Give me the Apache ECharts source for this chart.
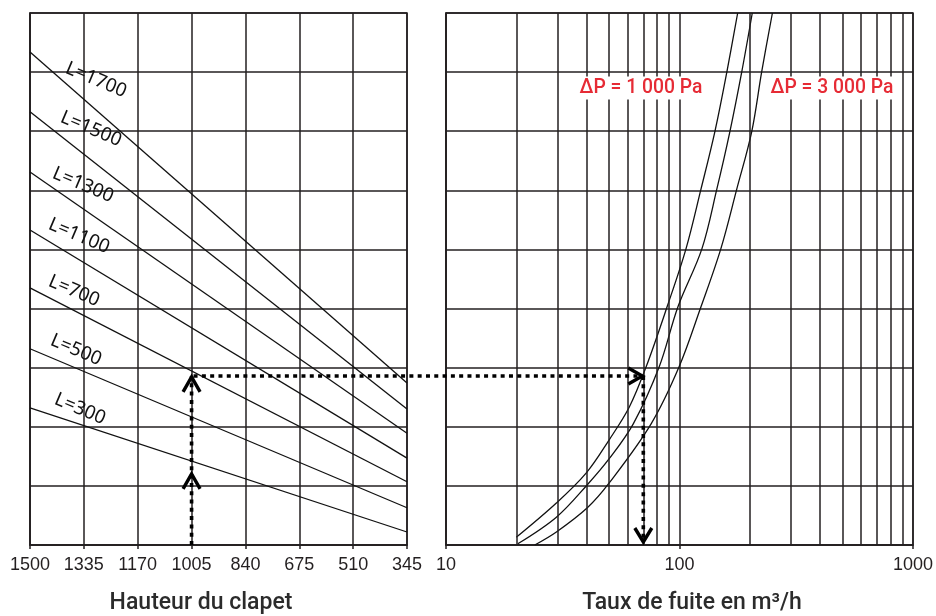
<!DOCTYPE html>
<html>
<head>
<meta charset="utf-8">
<script src="https://cdn.jsdelivr.net/npm/echarts@6/dist/echarts.min.js"></script>
<style>
  html, body { margin: 0; padding: 0; background: #fff; }
  #chart { width: 936px; height: 616px; }
</style>
</head>
<body>
<div id="chart"></div>
<script>
// ---------- data ----------
const hauteurMin = 345, hauteurMax = 1500, hauteurStep = 165;
const levelMin = 0, levelMax = 9, levelStep = 1;
const fuiteMin = 10, fuiteMax = 1000;
const fuiteMinor = [20, 30, 40, 50, 60, 70, 80, 90, 200, 300, 400, 500, 600, 700, 800, 900];

const lNames = ['L=1700', 'L=1500', 'L=1300', 'L=1100', 'L=700', 'L=500', 'L=300'];
const lAt1500 = [8.34, 7.33, 6.31, 5.33, 4.35, 3.32, 2.32];
const lAt345  = [2.74, 2.30, 1.89, 1.47, 1.07, 0.63, 0.22];

const fuiteCurveA = [[20, 0.13], [29.7, 0.71], [39.9, 1.22], [50, 1.78], [60.9, 2.33], [71.9, 3.01], [88.5, 4.03], [106.6, 5.01], [123.6, 6.02], [141.7, 6.99], [159.5, 8.0], [177.5, 9.0]];
const fuiteCurveB = [[20.3, 0.02], [29.7, 0.47], [40.3, 1.02], [50, 1.46], [63.4, 2.05], [81.8, 3.01], [98.5, 4.03], [124.7, 5.01], [144.5, 6.02], [164.3, 6.99], [184.7, 8.0], [205, 9.0]];
const fuiteCurveC = [[24, 0], [29.7, 0.22], [40.3, 0.63], [50, 1.05], [75.6, 2.05], [99.5, 3.01], [123.6, 4.03], [150.3, 5.01], [175.9, 6.02], [203.8, 6.99], [224.8, 8.0], [250, 9.0]];

const deltaLabels = ['ΔP = 1 000 Pa', 'ΔP = 3 000 Pa'];
const xTitles = ['Hauteur du clapet', 'Taux de fuite en m³/h'];

// reading example (arrows)
const readHauteur = 1005, readLevel = 2.86, readMidLevel = 1.22, readFuite = 70;

// ---------- layout / style ----------
const INK = '#231f20';
const GRID_W = 1.5;
const labelPos = [[96, 80], [91, 129], [83, 185], [79, 236], [74, 291], [76, 350], [80, 409]];
const deltaPos = [[641, 88], [832, 88]];
const titlePos = [[201, 603], [692, 603]];

const chart = echarts.init(document.getElementById('chart'), null, { renderer: 'canvas' });

const axisCommon = {
  axisLine: { show: true, lineStyle: { color: INK, width: GRID_W } },
  axisTick: { show: true, inside: false, length: 4, lineStyle: { color: INK, width: GRID_W } },
  axisLabel: { show: true, color: INK, fontSize: 18, fontFamily: 'Liberation Sans', margin: 11, showMinLabel: true, showMaxLabel: true,
               formatter: v => String(Math.round(v)) },
  splitLine: { show: true, lineStyle: { color: INK, width: GRID_W } }
};
const yCommon = {
  type: 'value', min: levelMin, max: levelMax, interval: levelStep,
  axisLine: { show: true, lineStyle: { color: INK, width: GRID_W } },
  axisTick: { show: false }, axisLabel: { show: false },
  splitLine: { show: true, lineStyle: { color: INK, width: GRID_W } }
};

const series = [];
lNames.forEach((n, i) => {
  series.push({
    name: n, type: 'line', xAxisIndex: 0, yAxisIndex: 0,
    data: [[hauteurMax, lAt1500[i]], [hauteurMin, lAt345[i]]],
    symbol: 'none', lineStyle: { color: '#111', width: 1.3 }, silent: true, z: 3
  });
});
[fuiteCurveA, fuiteCurveB, fuiteCurveC].forEach((d, i) => {
  series.push({
    name: 'curve' + i, type: 'line', xAxisIndex: 1, yAxisIndex: 1,
    data: d, smooth: 0.35, symbol: 'none',
    lineStyle: { color: '#111', width: 1.3 }, silent: true, z: 3
  });
});
// minor log grid lines
series.push({
  name: 'minor', type: 'line', xAxisIndex: 1, yAxisIndex: 1, data: [], silent: true,
  markLine: {
    silent: true, symbol: 'none', animation: false, label: { show: false },
    lineStyle: { type: 'solid', color: INK, width: GRID_W },
    data: fuiteMinor.map(v => ({ xAxis: v }))
  }
});

const option = {
  animation: false,
  backgroundColor: '#fff',
  grid: [
    { left: 30, right: 529, top: 13, bottom: 71, show: true, borderColor: INK, borderWidth: GRID_W },
    { left: 446, right: 21, top: 13, bottom: 71, show: true, borderColor: INK, borderWidth: GRID_W }
  ],
  xAxis: [
    Object.assign({ type: 'value', gridIndex: 0, inverse: true, min: hauteurMin, max: hauteurMax, interval: hauteurStep }, axisCommon),
    Object.assign({ type: 'log', logBase: 10, gridIndex: 1, min: fuiteMin, max: fuiteMax }, axisCommon)
  ],
  yAxis: [
    Object.assign({ gridIndex: 0 }, yCommon),
    Object.assign({ gridIndex: 1 }, yCommon)
  ],
  series: series
};
chart.setOption(option);

// ---------- annotations (through the axes' scales) ----------
const P = (g, v) => chart.convertToPixel({ gridIndex: g }, v);
const pBottomL = P(0, [readHauteur, levelMin]);
const pReadL = P(0, [readHauteur, readLevel]);
const pMidL = P(0, [readHauteur, readMidLevel]);
const pReadR = P(1, [readFuite, readLevel]);
const pBottomR = P(1, [readFuite, levelMin]);

const dotStyle = { stroke: '#000', lineWidth: 3.6, lineDash: [4, 4.3], fill: null };
const headStyle = { stroke: '#000', lineWidth: 3.4, fill: null, lineJoin: 'miter', lineCap: 'butt' };

const graphics = [];
graphics.push({ type: 'line', z: 50, shape: { x1: pBottomL[0], y1: pBottomL[1], x2: pReadL[0], y2: pReadL[1] }, style: dotStyle });
graphics.push({ type: 'line', z: 50, shape: { x1: pReadL[0] + 2, y1: pReadL[1], x2: pReadR[0] - 3, y2: pReadR[1] }, style: dotStyle });
graphics.push({ type: 'line', z: 50, shape: { x1: pReadR[0], y1: pReadR[1], x2: pBottomR[0], y2: pBottomR[1] - 3 }, style: dotStyle });
function chevUp(p) { return [[p[0] - 8.5, p[1] + 16], [p[0], p[1] + 1], [p[0] + 8.5, p[1] + 16]]; }
graphics.push({ type: 'polyline', z: 51, shape: { points: chevUp(pReadL) }, style: headStyle });
graphics.push({ type: 'polyline', z: 51, shape: { points: chevUp(pMidL) }, style: headStyle });
graphics.push({ type: 'polyline', z: 51, shape: { points: [[pReadR[0] - 15, pReadR[1] - 8], [pReadR[0] - 1, pReadR[1]], [pReadR[0] - 15, pReadR[1] + 8]] }, style: headStyle });
graphics.push({ type: 'polyline', z: 51, shape: { points: [[pBottomR[0] - 8.5, pBottomR[1] - 17], [pBottomR[0], pBottomR[1] - 3], [pBottomR[0] + 8.5, pBottomR[1] - 17]] }, style: headStyle });

lNames.forEach((n, i) => {
  graphics.push({
    type: 'text', z: 40, x: labelPos[i][0], y: labelPos[i][1], rotation: -23 * Math.PI / 180,
    style: { text: n, fill: '#111', font: '19px "Noto Sans"', align: 'center', verticalAlign: 'middle' }
  });
});
deltaLabels.forEach((t, i) => {
  graphics.push({
    type: 'text', z: 40, x: deltaPos[i][0], y: deltaPos[i][1], scaleX: 0.92,
    style: { text: t, fill: '#e62b35', font: '500 21px Roboto', align: 'center', verticalAlign: 'middle', backgroundColor: '#fff', padding: [1, 1] }
  });
});
xTitles.forEach((t, i) => {
  graphics.push({
    type: 'text', z: 40, x: titlePos[i][0], y: titlePos[i][1],
    style: { text: t, fill: '#2b2b2b', font: '500 23px Roboto', align: 'center', verticalAlign: 'middle' }
  });
});
chart.setOption({ graphic: graphics });
</script>
</body>
</html>
